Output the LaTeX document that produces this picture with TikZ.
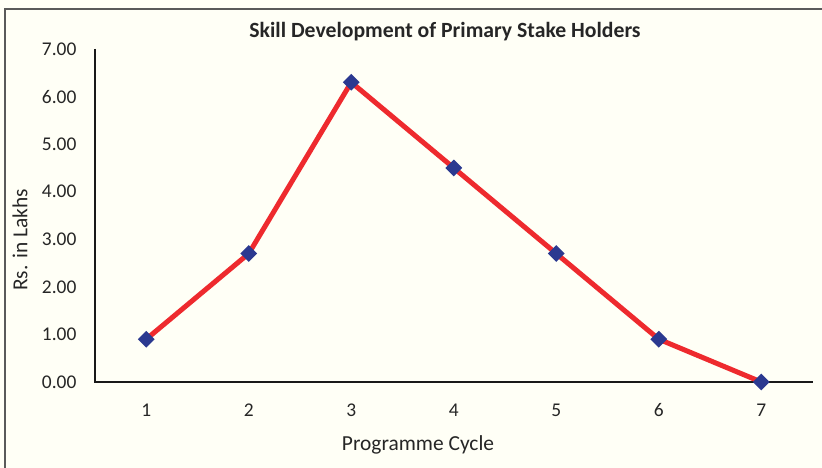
\documentclass[tikz,border=0pt]{standalone}
\usepackage{fontspec}
\setmainfont{Carlito}
\usetikzlibrary{shapes.geometric}
\definecolor{chartbg}{HTML}{FFFFF6}
\definecolor{seriesred}{HTML}{EE2A2E}
\definecolor{marknavy}{HTML}{2B3990}
\definecolor{framegray}{HTML}{5A5A5A}
\tikzset{
  ticklabel/.style={font=\fontsize{19.5}{22}\selectfont, text=black!85, inner sep=0pt},
  axislabel/.style={font=\fontsize{21.5}{24}\selectfont, text=black!85, inner sep=0pt},
  marker/.style={diamond, fill=marknavy, inner sep=0pt, minimum width=17bp, minimum height=17bp},
}
\begin{document}
\begin{tikzpicture}[x=1bp, y=1bp]
  \useasboundingbox (0,0) rectangle (822,468);
  \fill[chartbg] (0,0) rectangle (822,468);
  \draw[framegray, line width=1.3bp] (5,0) -- (5,459) -- (822,459);
  \node[font=\bfseries\fontsize{21.8}{24}\selectfont, text=black!85] (title) at (445,436) {Skill Development of Primary Stake Holders};
  \node[axislabel, rotate=90] (ylabel) at (20,228) {Rs. in Lakhs};
  \node[axislabel] (xlabel) at (418,23) {Programme Cycle};
  \begin{scope}[shift={(95,86)}, x=102.5bp, y=47.57bp]
    \coordinate (origin) at (0,0);
    \coordinate (ytop) at (0,7);
    \coordinate (xend) at (7,0);
    \draw[black!90, line width=2bp] (ytop) -- (origin) -- (xend);
    % value labels
    \foreach \v in {0,...,7}
      \node[ticklabel, anchor=east] (y\v) at (-0.18,\v) {\v.00};
    \foreach \k in {1,...,7}
      \node[ticklabel] (x\k) at ({\k-0.5},-0.59) {\k};
    % series
    \foreach \v [count=\k] in {0.9,2.7,6.3,4.5,2.7,0.9,0}
      \coordinate (p\k) at ({\k-0.5},\v);
    \draw[seriesred, line width=5bp, line join=round] (p1) -- (p2) -- (p3) -- (p4) -- (p5) -- (p6) -- (p7);
    \foreach \k in {1,...,7}
      \node[marker] (m\k) at (p\k) {};
  \end{scope}
\end{tikzpicture}
\end{document}
